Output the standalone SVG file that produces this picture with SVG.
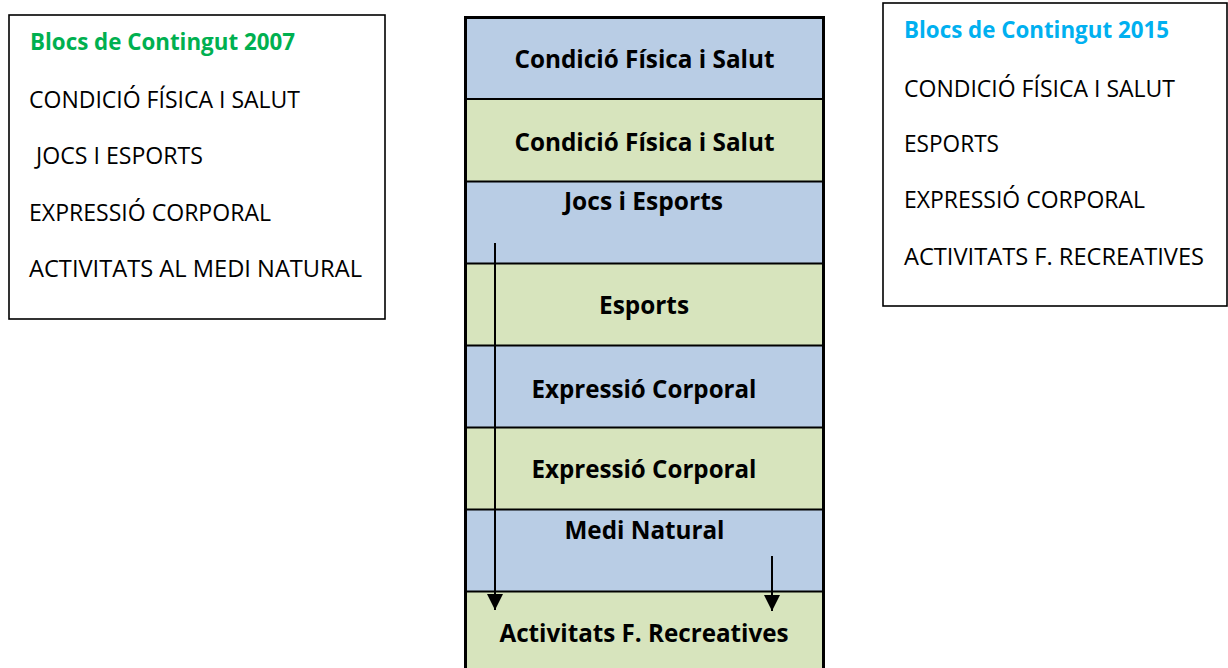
<svg xmlns="http://www.w3.org/2000/svg" width="1228" height="668" viewBox="0 0 1228 668">
  <style>
    .box { fill: #ffffff; stroke: #000000; stroke-width: 1.6; }
    .t { font-family: "Open Sans", "Liberation Sans", sans-serif; font-size: 23px; fill: #000000; }
    .h { font-family: "Open Sans", "Liberation Sans", sans-serif; font-size: 23px; font-weight: bold; }
    .c { font-family: "Open Sans", "Liberation Sans", sans-serif; font-size: 24.5px; font-weight: bold; fill: #000000; text-anchor: middle; }
    .blue { fill: #b9cde5; }
    .green { fill: #d7e4bd; }
    .sep { stroke: #000000; stroke-width: 2; }
    .arrow { stroke: #000000; stroke-width: 2; fill: none; marker-end: url(#ah); }
  </style>
  <defs>
    <marker id="ah" markerUnits="userSpaceOnUse" markerWidth="17" markerHeight="17" refX="16" refY="8" orient="auto">
      <path d="M0,0 L16,8 L0,16 Z" fill="#000000"/>
    </marker>
  </defs>

  <g id="blocs-2007">
    <rect class="box" x="9" y="15" width="376" height="304"/>
    <text class="h" x="30" y="50" fill="#00b050" textLength="265" lengthAdjust="spacingAndGlyphs">Blocs de Contingut 2007</text>
    <text class="t" x="29" y="108" textLength="271" lengthAdjust="spacingAndGlyphs">CONDICIÓ FÍSICA I SALUT</text>
    <text class="t" x="36" y="164" textLength="167" lengthAdjust="spacingAndGlyphs">JOCS I ESPORTS</text>
    <text class="t" x="29" y="221" textLength="242" lengthAdjust="spacingAndGlyphs">EXPRESSIÓ CORPORAL</text>
    <text class="t" x="29" y="277" textLength="333" lengthAdjust="spacingAndGlyphs">ACTIVITATS AL MEDI NATURAL</text>
  </g>

  <g id="blocs-2015">
    <rect class="box" x="883" y="3" width="344" height="303"/>
    <text class="h" x="904" y="38" fill="#00b0f0" textLength="265" lengthAdjust="spacingAndGlyphs">Blocs de Contingut 2015</text>
    <text class="t" x="904" y="97" textLength="271" lengthAdjust="spacingAndGlyphs">CONDICIÓ FÍSICA I SALUT</text>
    <text class="t" x="904" y="152" textLength="95" lengthAdjust="spacingAndGlyphs">ESPORTS</text>
    <text class="t" x="904" y="208" textLength="241" lengthAdjust="spacingAndGlyphs">EXPRESSIÓ CORPORAL</text>
    <text class="t" x="904" y="265" textLength="300" lengthAdjust="spacingAndGlyphs">ACTIVITATS F. RECREATIVES</text>
  </g>

  <g id="column">
    <g id="row1">
      <rect class="blue" x="465" y="17" width="359" height="82"/>
      <text class="c" x="644.5" y="68" textLength="260" lengthAdjust="spacingAndGlyphs">Condició Física i Salut</text>
    </g>
    <g id="row2">
      <rect class="green" x="465" y="99" width="359" height="82"/>
      <text class="c" x="644.5" y="151" textLength="260" lengthAdjust="spacingAndGlyphs">Condició Física i Salut</text>
    </g>
    <g id="row3">
      <rect class="blue" x="465" y="181" width="359" height="82"/>
      <text class="c" x="643.5" y="210" textLength="159" lengthAdjust="spacingAndGlyphs">Jocs i Esports</text>
    </g>
    <g id="row4">
      <rect class="green" x="465" y="263" width="359" height="82"/>
      <text class="c" x="644" y="314" textLength="90" lengthAdjust="spacingAndGlyphs">Esports</text>
    </g>
    <g id="row5">
      <rect class="blue" x="465" y="345" width="359" height="82"/>
      <text class="c" x="644" y="398" textLength="225" lengthAdjust="spacingAndGlyphs">Expressió Corporal</text>
    </g>
    <g id="row6">
      <rect class="green" x="465" y="427" width="359" height="82"/>
      <text class="c" x="644" y="478" textLength="225" lengthAdjust="spacingAndGlyphs">Expressió Corporal</text>
    </g>
    <g id="row7">
      <rect class="blue" x="465" y="509" width="359" height="82"/>
      <text class="c" x="644.5" y="539" textLength="160" lengthAdjust="spacingAndGlyphs">Medi Natural</text>
    </g>
    <g id="row8">
      <rect class="green" x="465" y="591" width="359" height="90"/>
      <text class="c" x="644" y="642" textLength="289" lengthAdjust="spacingAndGlyphs">Activitats F. Recreatives</text>
    </g>
    <line class="sep" x1="465" y1="99" x2="824" y2="99"/>
    <line class="sep" x1="465" y1="181.5" x2="824" y2="181.5"/>
    <line class="sep" x1="465" y1="263.5" x2="824" y2="263.5"/>
    <line class="sep" x1="465" y1="345.5" x2="824" y2="345.5"/>
    <line class="sep" x1="465" y1="427.5" x2="824" y2="427.5"/>
    <line class="sep" x1="465" y1="509.5" x2="824" y2="509.5"/>
    <line class="sep" x1="465" y1="591.5" x2="824" y2="591.5"/>
    <rect x="465.5" y="17.5" width="358" height="700" fill="none" stroke="#000000" stroke-width="3"/>
  </g>

  <g id="connectors">
    <line class="arrow" x1="495" y1="243" x2="495" y2="610"/>
    <line class="arrow" x1="772" y1="556" x2="772" y2="611"/>
  </g>
</svg>
